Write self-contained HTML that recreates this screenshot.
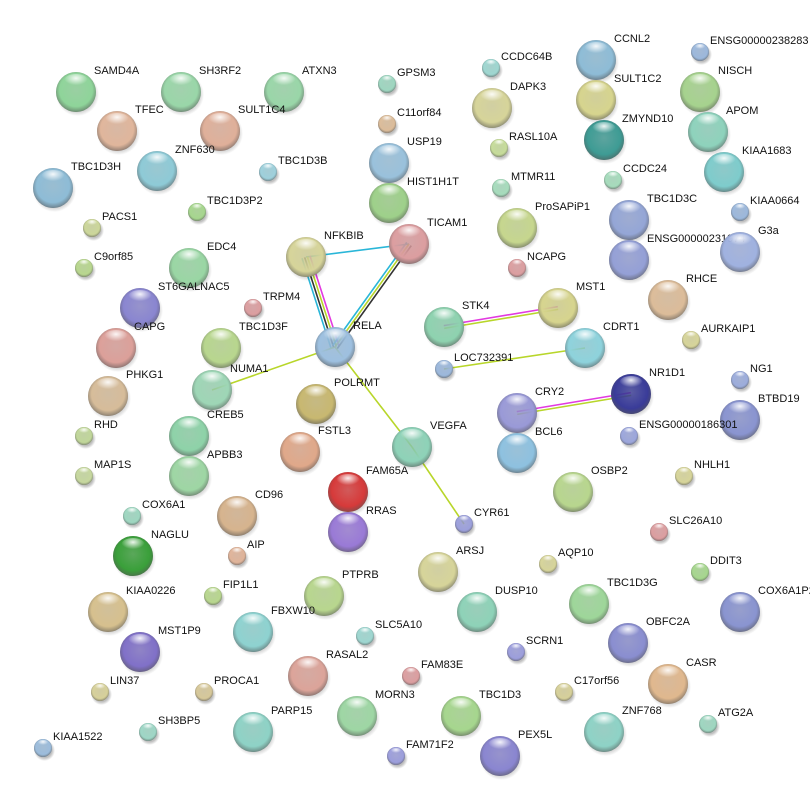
<!DOCTYPE html>
<html><head><meta charset="utf-8"><style>
html,body{margin:0;padding:0;background:#fff;width:810px;height:801px;overflow:hidden}
svg{display:block}
text{font-family:"Liberation Sans",Arial,sans-serif;font-size:11px;fill:#111}
</style></head><body>
<svg id="s" width="810" height="801" viewBox="0 0 810 801" xmlns="http://www.w3.org/2000/svg">
<defs id="d">
<radialGradient id="hl" cx="50%" cy="30%" r="50%"><stop offset="0" stop-color="#fff" stop-opacity="0.9"/><stop offset="1" stop-color="#fff" stop-opacity="0"/></radialGradient>
<radialGradient id="sh" cx="50%" cy="50%" r="50%"><stop offset="0.7" stop-color="#000" stop-opacity="0.25"/><stop offset="1" stop-color="#000" stop-opacity="0"/></radialGradient>
</defs>
<g id="e" stroke-width="1.6" fill="none"></g>
<g id="n"></g>
</svg>
<script>
var N=[
["SAMD4A",76,92,20,"#8fd49a"],["SH3RF2",181,92,20,"#9ad6a8"],["ATXN3",284,92,20,"#9ad6a8"],
["TFEC",117,131,20,"#e0b69c"],["SULT1C4",220,131,20,"#dfb09a"],["ZNF630",157,171,20,"#8ecad6"],
["TBC1D3H",53,188,20,"#8ebcd6"],["USP19",389,163,20,"#9ac2dc"],["HIST1H1T",389,203,20,"#9ed08a"],
["DAPK3",492,108,20,"#d6d49a"],["CCNL2",596,60,20,"#8ebcd6"],["SULT1C2",596,100,20,"#d6d48e"],
["ZMYND10",604,140,20,"#3e9c94"],["NISCH",700,92,20,"#a6d28e"],["APOM",708,132,20,"#8ed2bc"],
["KIAA1683",724,172,20,"#7ecccc"],["TBC1D3C",629,220,20,"#94a6d6"],["ENSG00000231974",629,260,20,"#94a0d6"],
["G3a",740,252,20,"#a0b2e0"],["ProSAPiP1",517,228,20,"#c6d68e"],["NFKBIB",306,257,20,"#d6d49a"],
["TICAM1",409,244,20,"#dc9ea0"],["EDC4",189,268,20,"#9ad6a4"],["ST6GALNAC5",140,308,20,"#8a86d0"],
["CAPG",116,348,20,"#dca09a"],["TBC1D3F",221,348,20,"#b8d68e"],["RELA",335,347,20,"#9ec0e0"],
["STK4",444,327,20,"#8ed2b0"],["MST1",558,308,20,"#d6d48e"],["CDRT1",585,348,20,"#8ed2dc"],
["RHCE",668,300,20,"#dcbc9a"],["NUMA1",212,390,20,"#9ed6b6"],["PHKG1",108,396,20,"#d6bc9a"],
["POLRMT",316,404,20,"#c8b870"],["CREB5",189,436,20,"#8ed2a8"],["FSTL3",300,452,20,"#e0a88a"],
["CRY2",517,413,20,"#9a9ad8"],["NR1D1",631,394,20,"#3a3c9a"],["BTBD19",740,420,20,"#8a94d0"],
["BCL6",517,453,20,"#8ec2e0"],["VEGFA",412,447,20,"#8ed2b8"],["APBB3",189,476,20,"#9ed6a4"],
["FAM65A",348,492,20,"#d63a3a"],["OSBP2",573,492,20,"#b8d68e"],["CD96",237,516,20,"#d6b48e"],
["RRAS",348,532,20,"#9a7ad6"],["NAGLU",133,556,20,"#3aa03a"],["ARSJ",438,572,20,"#d6d49a"],
["PTPRB",324,596,20,"#b8d68e"],["TBC1D3G",589,604,20,"#9ed69a"],["DUSP10",477,612,20,"#8ed2b8"],
["KIAA0226",108,612,20,"#d6c08e"],["FBXW10",253,632,20,"#8ed2d0"],["OBFC2A",628,643,20,"#8a8ed0"],
["COX6A1P2",740,612,20,"#8a94d0"],["MST1P9",140,652,20,"#8070c8"],["RASAL2",308,676,20,"#dca49a"],
["CASR",668,684,20,"#e0b88e"],["MORN3",357,716,20,"#9ed6a4"],["TBC1D3",461,716,20,"#a6d68e"],
["PARP15",253,732,20,"#8ed2c6"],["ZNF768",604,732,20,"#8ed2c6"],["PEX5L",500,756,20,"#8a86d0"],
["ENSG00000238283",700,52,9,"#9cb8dc"],["CCDC64B",491,68,9,"#9ed6d0"],["GPSM3",387,84,9,"#9ed6c0"],
["C11orf84",387,124,9,"#dcbc9a"],["TBC1D3B",268,172,9,"#9ed0dc"],["RASL10A",499,148,9,"#c6dc9a"],
["CCDC24",613,180,9,"#a6dcbc"],["MTMR11",501,188,9,"#a6dcbc"],["KIAA0664",740,212,9,"#9cb8dc"],
["TBC1D3P2",197,212,9,"#a6d68e"],["PACS1",92,228,9,"#ccd69a"],["C9orf85",84,268,9,"#b8d68e"],
["NCAPG",517,268,9,"#dc9ea0"],["TRPM4",253,308,9,"#dc9ea0"],["AURKAIP1",691,340,9,"#d6d49a"],
["LOC732391",444,369,9,"#9cb8dc"],["NG1",740,380,9,"#9cacdc"],["RHD",84,436,9,"#c0d69a"],
["ENSG00000186301",629,436,9,"#9ca6dc"],["MAP1S",84,476,9,"#c6d89e"],["NHLH1",684,476,9,"#d6d49a"],
["COX6A1",132,516,9,"#9ed6c0"],["CYR61",464,524,9,"#9ca0dc"],["SLC26A10",659,532,9,"#dc9ea0"],
["AIP",237,556,9,"#e0b49a"],["AQP10",548,564,9,"#d6d49a"],["DDIT3",700,572,9,"#a6d68e"],
["FIP1L1",213,596,9,"#b8d68e"],["SLC5A10",365,636,9,"#9ed6d0"],["SCRN1",516,652,9,"#9c9edc"],
["FAM83E",411,676,9,"#dc9ea0"],["LIN37",100,692,9,"#d6d09a"],["PROCA1",204,692,9,"#d6c89a"],
["C17orf56",564,692,9,"#d6d09a"],["SH3BP5",148,732,9,"#9ed6c6"],["ATG2A",708,724,9,"#9ed6c0"],
["KIAA1522",43,748,9,"#9cbcdc"],["FAM71F2",396,756,9,"#9c9edc"]];
var P={};N.forEach(function(a){P[a[0]]=a;});
var E=[["NFKBIB","TICAM1",["#29b6d8"]],["NFKBIB","RELA",["#e23ae0","#b8d62a","#333","#29b6d8"]],
["TICAM1","RELA",["#333","#b8d62a","#29b6d8"]],["RELA","NUMA1",["#b8d62a"]],["RELA","VEGFA",["#b8d62a"]],
["VEGFA","CYR61",["#b8d62a"]],["STK4","MST1",["#e23ae0","#b8d62a"]],["CDRT1","LOC732391",["#b8d62a"]],
["CRY2","NR1D1",["#e23ae0","#b8d62a"]]];
var ns="http://www.w3.org/2000/svg",eg=document.getElementById("e"),ng=document.getElementById("n"),d=document.getElementById("d");
function el(t,at,p){var x=document.createElementNS(ns,t);for(var k in at)x.setAttribute(k,at[k]);p.appendChild(x);return x;}
E.forEach(function(e){var a=P[e[0]],b=P[e[1]],dx=b[1]-a[1],dy=b[2]-a[2],L=Math.sqrt(dx*dx+dy*dy),px=-dy/L,py=dx/L,k=e[2].length;
e[2].forEach(function(c,i){var o=(i-(k-1)/2)*2.8;el("line",{x1:a[1]+px*o,y1:a[2]+py*o,x2:b[1]+px*o,y2:b[2]+py*o,stroke:c},eg);});});
N.forEach(function(a,i){var id="g"+i;var g=el("radialGradient",{id:id,cx:"50%",cy:"45%",r:"55%"},d);
el("stop",{offset:"0","stop-color":a[4],"stop-opacity":"0.55"},g);el("stop",{offset:"0.75","stop-color":a[4]},g);el("stop",{offset:"1","stop-color":"#555"},g);
var r=a[3];el("circle",{cx:a[1]+1.5,cy:a[2]+2.5,r:r+1.5,fill:"url(#sh)"},ng);
el("circle",{cx:a[1],cy:a[2],r:r,fill:"url(#"+id+")"},ng);
el("circle",{cx:a[1],cy:a[2],r:r,fill:a[4],"fill-opacity":"0.45"},ng);
el("ellipse",{cx:a[1],cy:a[2]-r*0.55,rx:r*0.6,ry:r*0.35,fill:"url(#hl)"},ng);
var t=el("text",{x:r>10?a[1]+18:a[1]+10,y:r>10?a[2]-18:a[2]-8},ng);t.textContent=a[0];});
</script>
</body></html>
